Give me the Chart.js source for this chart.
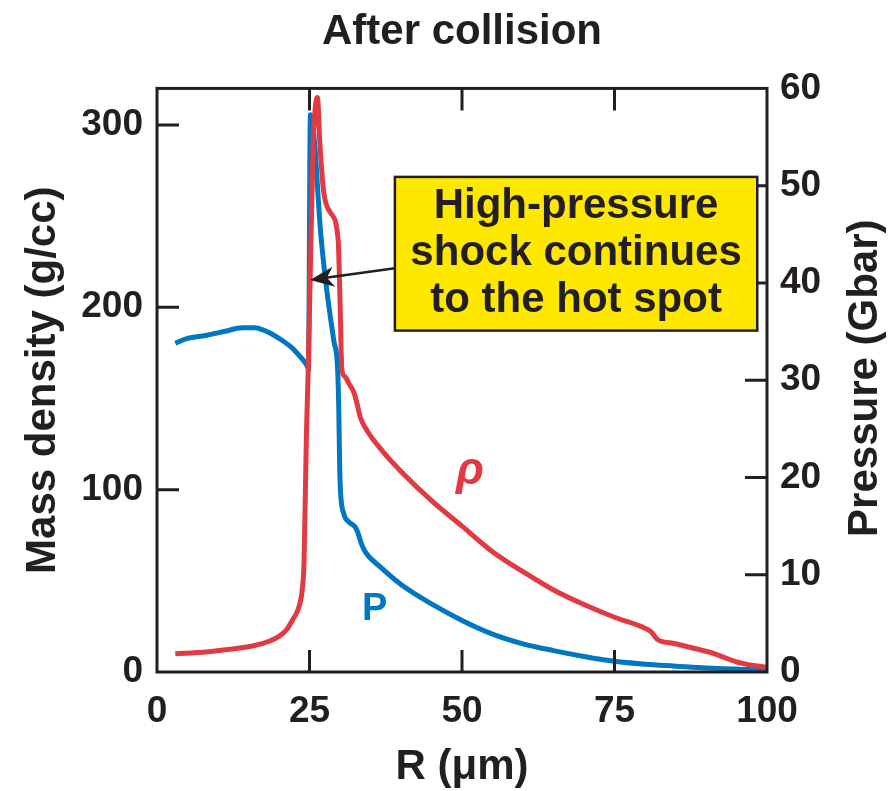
<!DOCTYPE html>
<html>
<head>
<meta charset="utf-8">
<script src="https://cdn.jsdelivr.net/npm/chart.js@4.4.0/dist/chart.umd.min.js"></script>
<style>
  body { margin: 0; background: #fff; }
  #wrap { width: 896px; height: 791px; }
</style>
</head>
<body>
<div id="wrap"><canvas id="chart" width="896" height="791"></canvas></div>
<script>
'use strict';

// tick labels
const rTicks = [0, 25, 50, 75, 100];
const densityTicks = [0, 100, 200, 300];
const pressureTicks = [0, 10, 20, 30, 40, 50, 60];

// mass density rho (g/cc) vs R (um)
const rhoR = [3, 8, 12, 16, 18.5, 20, 21.2, 22.3, 23.2, 23.8, 24.1, 24.5, 24.8, 25.1, 25.6, 26.0, 26.3, 26.7, 27.3, 28.4, 29.7, 30.0, 30.3, 30.8, 31.5, 32.3, 32.8, 33.3, 34.5, 37, 40, 45, 50, 55, 60, 65, 70, 75, 80, 81, 82, 85, 88, 91, 93, 95, 97, 100];
const rhoVals = [10, 11, 12.5, 14.5, 17, 19.5, 23, 29, 35, 45, 60, 131, 167, 215, 290, 311, 315, 290, 264, 252, 237, 204, 166, 162, 158, 153, 147, 140, 132, 121, 110, 94, 80, 66, 55, 45, 37, 30, 24, 22, 18, 15.5, 13, 10.5, 8, 5.5, 4, 2.5];

// pressure P (Gbar) vs R (um)
const pR = [3, 5, 8, 11, 14, 16, 18, 20, 22, 23.5, 24.5, 24.85, 24.95, 25.05, 25.15, 25.5, 26.0, 26.4, 26.8, 27.5, 28.2, 29.0, 29.6, 29.8, 29.95, 30.1, 30.6, 31.5, 32.5, 33.0, 33.5, 34.2, 36.6, 40, 45, 50, 55, 60, 65, 70, 75, 80, 85, 90, 100];
const pVals = [33.8, 34.3, 34.6, 35.0, 35.4, 35.4, 35.0, 34.3, 33.4, 32.4, 31.6, 31.2, 40, 52, 57.3, 56.5, 53, 49, 45.4, 41, 37.5, 34, 31.3, 27, 21, 18.4, 16.3, 15.4, 14.9, 14.2, 13.2, 12.3, 10.8, 9.0, 7.0, 5.3, 3.9, 2.9, 2.2, 1.6, 1.1, 0.8, 0.6, 0.4, 0.2];

const RED = '#e23a42';
const BLUE = '#0077c1';
const INK = '#231f20';
const FONT = "'Liberation Sans', Arial, Helvetica, sans-serif";

const frameAndNotes = {
  id: 'frameAndNotes',
  afterDraw(chart) {
    const ctx = chart.ctx;
    const a = chart.chartArea;
    const x = chart.scales.x, y = chart.scales.y, y1 = chart.scales.y1;
    const TL = 22;
    ctx.save();
    ctx.strokeStyle = INK;
    ctx.lineWidth = 3;
    ctx.strokeRect(a.left, a.top, a.right - a.left, a.bottom - a.top);
    ctx.beginPath();
    rTicks.slice(1, -1).forEach(v => {
      const px = x.getPixelForValue(v);
      ctx.moveTo(px, a.bottom); ctx.lineTo(px, a.bottom - TL);
      ctx.moveTo(px, a.top); ctx.lineTo(px, a.top + TL);
    });
    densityTicks.slice(1).forEach(v => {
      const py = y.getPixelForValue(v);
      ctx.moveTo(a.left, py); ctx.lineTo(a.left + TL, py);
    });
    pressureTicks.slice(1, -1).forEach(v => {
      const py = y1.getPixelForValue(v);
      ctx.moveTo(a.right, py); ctx.lineTo(a.right - TL, py);
    });
    ctx.stroke();

    // axis titles (both read bottom to top)
    const midY = (a.top + a.bottom) / 2;
    ctx.fillStyle = INK;
    ctx.font = 'bold 42px ' + FONT;
    ctx.textAlign = 'center';
    ctx.textBaseline = 'middle';
    ctx.save();
    ctx.translate(43, midY);
    ctx.rotate(-Math.PI / 2);
    ctx.fillText('Mass density (g/cc)', 0, 0);
    ctx.restore();
    ctx.save();
    ctx.translate(865, midY - 2);
    ctx.rotate(-Math.PI / 2);
    ctx.fillText('Pressure (Gbar)', 0, 0);
    ctx.restore();

    // callout box
    const bx0 = x.getPixelForValue(39), bx1 = x.getPixelForValue(98.4);
    const by0 = y1.getPixelForValue(50.9), by1 = y1.getPixelForValue(35.1);
    ctx.fillStyle = '#ffe800';
    ctx.fillRect(bx0, by0, bx1 - bx0, by1 - by0);
    ctx.lineWidth = 2.5;
    ctx.strokeRect(bx0, by0, bx1 - bx0, by1 - by0);
    ctx.fillStyle = INK;
    ctx.font = 'bold 42px ' + FONT;
    const cx = (bx0 + bx1) / 2, cy = (by0 + by1) / 2;
    ['High-pressure', 'shock continues', 'to the hot spot'].forEach((t, i) => {
      ctx.fillText(t, cx, cy + (i - 1) * 47);
    });

    // arrow
    const ax0 = bx0, ay0 = y1.getPixelForValue(41.5);
    const ax1 = x.getPixelForValue(25.1), ay1 = y1.getPixelForValue(40.3);
    const ang = Math.atan2(ay1 - ay0, ax1 - ax0);
    ctx.lineWidth = 2.5;
    ctx.beginPath();
    ctx.moveTo(ax0, ay0);
    ctx.lineTo(ax1 - 14 * Math.cos(ang), ay1 - 14 * Math.sin(ang));
    ctx.stroke();
    ctx.beginPath();
    ctx.moveTo(ax1, ay1);
    ctx.lineTo(ax1 - 24 * Math.cos(ang) + 10 * Math.sin(ang), ay1 - 24 * Math.sin(ang) - 10 * Math.cos(ang));
    ctx.lineTo(ax1 - 17 * Math.cos(ang), ay1 - 17 * Math.sin(ang));
    ctx.lineTo(ax1 - 24 * Math.cos(ang) - 10 * Math.sin(ang), ay1 - 24 * Math.sin(ang) + 10 * Math.cos(ang));
    ctx.closePath();
    ctx.fill();

    // series labels
    ctx.fillStyle = RED;
    ctx.font = 'italic bold 46px ' + FONT;
    ctx.fillText('\u03c1', x.getPixelForValue(51.3), y.getPixelForValue(110));
    ctx.fillStyle = BLUE;
    ctx.font = 'bold 38px ' + FONT;
    ctx.fillText('P', x.getPixelForValue(35.7), y1.getPixelForValue(6.4));
    ctx.restore();
  }
};

const tickFont = { family: FONT, size: 37, weight: 'bold' };

new Chart(document.getElementById('chart'), {
  type: 'line',
  data: {
    datasets: [
      {
        label: 'rho',
        data: rhoR.map((r, i) => ({ x: r, y: rhoVals[i] })),
        borderColor: RED,
        borderWidth: 5,
        pointRadius: 0,
        cubicInterpolationMode: 'monotone',
        yAxisID: 'y'
      },
      {
        label: 'P',
        data: pR.map((r, i) => ({ x: r, y: pVals[i] })),
        borderColor: BLUE,
        borderWidth: 5,
        pointRadius: 0,
        cubicInterpolationMode: 'monotone',
        yAxisID: 'y1'
      }
    ]
  },
  options: {
    responsive: false,
    animation: false,
    layout: { padding: 0 },
    plugins: {
      legend: { display: false },
      tooltip: { enabled: false },
      title: {
        display: true,
        text: 'After collision',
        fullSize: false,
        color: INK,
        font: { family: FONT, size: 42, weight: 'bold' },
        padding: { top: 7, bottom: 31 }
      }
    },
    scales: {
      x: {
        type: 'linear',
        min: 0,
        max: 100,
        afterBuildTicks: s => { s.ticks = rTicks.map(v => ({ value: v })); },
        afterFit: s => { s.height = 119; },
        grid: { display: false },
        border: { display: false },
        ticks: { color: INK, font: tickFont, padding: 10, maxRotation: 0 },
        title: {
          display: true,
          text: 'R (\u03bcm)',
          color: INK,
          font: { family: FONT, size: 42, weight: 'bold' },
          padding: { top: 0, bottom: -2 }
        }
      },
      y: {
        position: 'left',
        min: 0,
        max: 320,
        afterBuildTicks: s => { s.ticks = densityTicks.map(v => ({ value: v })); },
        afterFit: s => { s.width = 157; },
        grid: { display: false },
        border: { display: false },
        ticks: { color: INK, font: tickFont, padding: 6 }
      },
      y1: {
        position: 'right',
        min: 0,
        max: 60,
        afterBuildTicks: s => { s.ticks = pressureTicks.map(v => ({ value: v })); },
        afterFit: s => { s.width = 129; },
        grid: { display: false },
        border: { display: false },
        ticks: { color: INK, font: tickFont, padding: 5 }
      }
    }
  },
  plugins: [frameAndNotes]
});
</script>
</body>
</html>
